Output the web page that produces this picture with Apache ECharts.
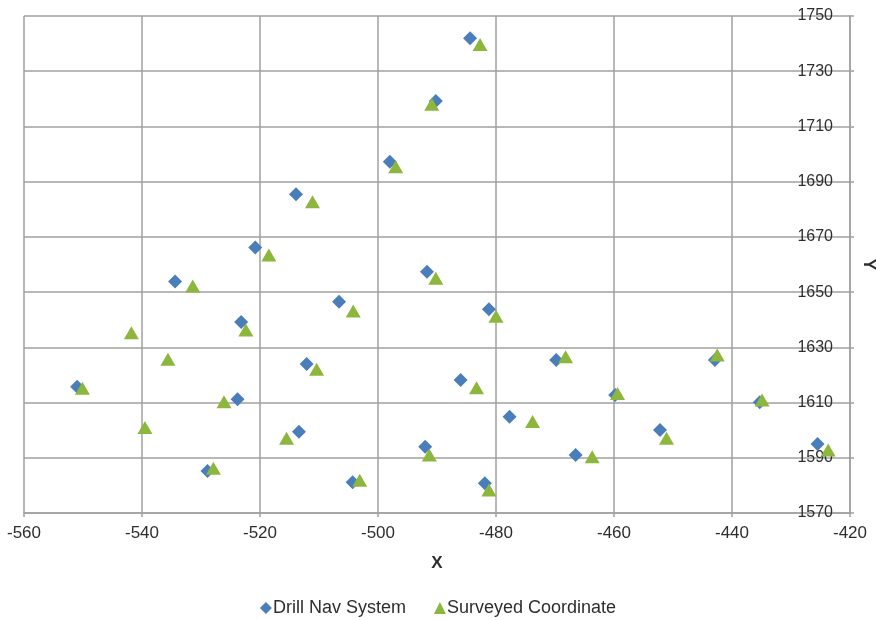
<!DOCTYPE html>
<html>
<head>
<meta charset="utf-8">
<script src="https://cdn.jsdelivr.net/npm/echarts@6/dist/echarts.min.js"></script>
<style>
  html, body { margin: 0; padding: 0; background: #fff; }
  #chart { width: 876px; height: 620px; }
</style>
</head>
<body>
<div id="chart"></div>
<script>
// Drill navigation system positions
const drillX = [-484.4, -490.2, -498.0, -513.9, -520.8, -534.4, -491.7, -506.6, -481.2, -523.2, -551.0, -512.1, -486.0, -469.8, -442.9, -523.8, -513.4, -477.7, -492.0, -452.2, -466.5, -528.9, -504.3, -481.9, -425.5, -459.8, -435.3];
const drillY = [1741.9, 1719.2, 1697.2, 1685.4, 1666.2, 1653.8, 1657.4, 1646.5, 1643.8, 1639.2, 1615.7, 1624.0, 1618.2, 1625.4, 1625.4, 1611.2, 1599.4, 1604.9, 1594.0, 1600.1, 1591.0, 1585.2, 1581.1, 1580.8, 1595.0, 1612.7, 1610.1];

// Surveyed coordinates
const surveyX = [-482.7, -490.9, -497.0, -511.1, -518.5, -531.4, -490.2, -504.2, -480.0, -522.4, -541.8, -535.6, -550.1, -510.4, -483.3, -468.2, -442.5, -459.4, -434.9, -526.1, -539.5, -515.5, -473.8, -451.1, -491.3, -463.7, -527.9, -503.1, -481.2, -423.7];
const surveyY = [1739.7, 1718.0, 1695.4, 1682.7, 1663.4, 1652.2, 1655.0, 1643.2, 1641.3, 1636.3, 1635.3, 1625.7, 1615.2, 1622.1, 1615.4, 1626.6, 1627.2, 1613.3, 1610.9, 1610.3, 1601.0, 1597.1, 1603.1, 1597.1, 1591.0, 1590.4, 1586.2, 1581.9, 1578.3, 1592.8];

const seriesNames = ['Drill Nav System', 'Surveyed Coordinate'];

const pairs = (xs, ys) => xs.map((x, i) => [x, ys[i]]);

const FONT = '"Liberation Sans", Arial, sans-serif';
const GRID_COLOR = '#a0a0a0';
const TEXT_COLOR = '#2e2e2e';

const chart = echarts.init(document.getElementById('chart'));
chart.setOption({
  animation: false,
  backgroundColor: '#ffffff',
  textStyle: { fontFamily: FONT },
  grid: { left: 24, right: 26, top: 16, bottom: 107, containLabel: false, outerBoundsMode: 'none' },
  xAxis: {
    type: 'value',
    min: -560, max: -420, interval: 20,
    name: 'X',
    nameLocation: 'middle',
    nameGap: 42,
    nameTextStyle: { fontSize: 17, fontWeight: 'bold', color: TEXT_COLOR, fontFamily: FONT },
    axisLine: { show: true, lineStyle: { color: GRID_COLOR, width: 1.5 } },
    axisTick: { show: true, length: 4, lineStyle: { color: GRID_COLOR, width: 1.5 } },
    axisLabel: { fontSize: 17, color: TEXT_COLOR, margin: 12, fontFamily: FONT, formatter: v => String(v) },
    splitLine: { show: true, lineStyle: { color: GRID_COLOR, width: 1.5 } }
  },
  yAxis: {
    type: 'value',
    position: 'right',
    min: 1570, max: 1750, interval: 20,
    name: 'Y',
    nameLocation: 'middle',
    nameRotate: -90,
    nameGap: 10,
    nameTextStyle: { fontSize: 17, fontWeight: 'bold', color: TEXT_COLOR, fontFamily: FONT },
    axisLine: { show: true, lineStyle: { color: GRID_COLOR, width: 1.5 } },
    axisTick: { show: true, length: 4, lineStyle: { color: GRID_COLOR, width: 1.5 } },
    axisLabel: { inside: true, fontSize: 16, color: TEXT_COLOR, margin: 17, fontFamily: FONT, formatter: v => String(v) },
    splitLine: { show: true, lineStyle: { color: GRID_COLOR, width: 1.5 } }
  },
  legend: {
    bottom: -2,
    left: 'center',
    itemWidth: 12,
    itemHeight: 12,
    itemGap: 28,
    textStyle: { fontSize: 18, color: TEXT_COLOR, fontFamily: FONT, padding: [0, 0, 0, -4] },
    data: [
      { name: seriesNames[0], icon: 'diamond' },
      { name: seriesNames[1], icon: 'triangle' }
    ]
  },
  series: [
    {
      name: seriesNames[0],
      type: 'scatter',
      symbol: 'diamond',
      symbolSize: [14, 14],
      itemStyle: { color: '#4a7ebb', opacity: 1 },
      data: pairs(drillX, drillY)
    },
    {
      name: seriesNames[1],
      type: 'scatter',
      symbol: 'triangle',
      symbolSize: [15, 13],
      itemStyle: { color: '#8db63c', opacity: 1 },
      data: pairs(surveyX, surveyY)
    }
  ]
});
</script>
</body>
</html>
